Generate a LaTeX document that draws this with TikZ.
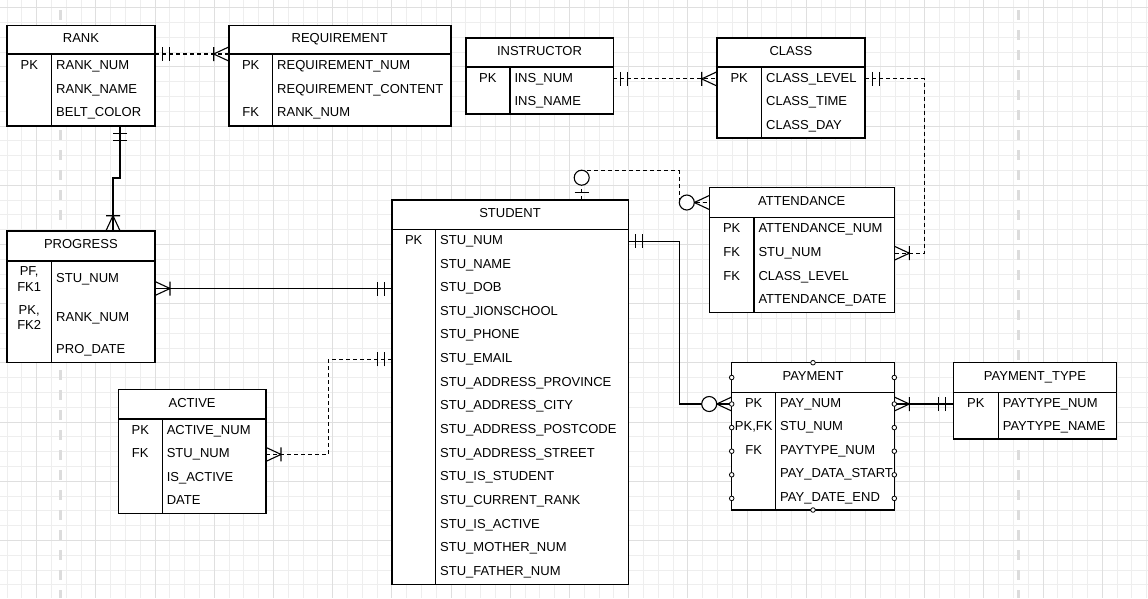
\documentclass[tikz,border=0pt]{standalone}
\usepackage{fontspec}
\setmainfont{Liberation Sans}
\definecolor{minorgray}{HTML}{EEEEEE}
\definecolor{majorgray}{HTML}{DFDFDF}
\definecolor{breakgray}{HTML}{DCDCDC}

\begin{document}
\begin{tikzpicture}[
    x = 1pt, y = -1pt,
    every node/.style = {font = \fontsize{13}{15.5}\selectfont, inner sep = 0pt, outer sep = 0pt},
    tblhead/.style = {draw, fill = white, line width = 1.6pt, anchor = north west,
                      text height = 9.3pt, text depth = 3pt},
    tblbody/.style = {draw, fill = white, line width = 1.6pt, anchor = north west},
    thinbox/.style = {line width = 1.1pt},
    divline/.style = {line width = 1.5pt},
    keyc/.style = {anchor = center, text height = 9.3pt, text depth = 3pt},
    keytwo/.style = {anchor = center, align = center},
    fld/.style = {anchor = west, text height = 9.3pt, text depth = 3pt},
    rel/.style = {line width = 1.1pt},
    dashrel/.style = {line width = 1.1pt, dash pattern = on 4pt off 3pt},
    gridline/.style = {draw = minorgray, line width = 1pt},
    gridmajor/.style = {draw = majorgray, line width = 1pt},
    pagebreak/.style = {draw = breakgray, line width = 3pt, dash pattern = on 10pt off 10pt, dash phase = 10pt},
    cpoint/.style = {draw, fill = white, line width = 0.8pt},
    % ER line ends, x axis pointing away from the table
    mandone/.pic = {\draw[solid, line width = 1.1pt] (7.5,-7) -- (7.5,7) (14.5,-7) -- (14.5,7);},
    manyone/.pic = {\draw[solid, line width = 1.1pt] (15,-7) -- (15,7) (0,-7) -- (15,0) -- (0,7);},
    zeromany/.pic = {\draw[solid, line width = 1.1pt] (0,-7) -- (15,0) -- (0,7);
                     \draw[solid, line width = 1.1pt, fill = white] (22.5,0) circle[radius = 7.5];},
    zeroone/.pic = {\draw[solid, line width = 1.1pt] (7.7,-7) -- (7.7,7);
                    \draw[solid, line width = 1.1pt, fill = white] (22.3,0) circle[radius = 7.5];}
  ]
  \useasboundingbox (0,0) rectangle (1148,598);

  % Grid
  \fill[white] (0,0) rectangle (1148,598);
  \foreach \i in {0,...,77} \draw[gridline] ({7.1+14.8*\i},0) -- ++(0,598);
  \foreach \j in {0,...,39} \draw[gridline] (0,{7.7+14.8*\j}) -- ++(1148,0);
  \foreach \i in {0,...,18} \draw[gridmajor] ({36.7+59.2*\i},0) -- ++(0,598);
  \foreach \j in {0,...,9} \draw[gridmajor] (0,{7.7+59.2*\j}) -- ++(1148,0);
  \draw[pagebreak] (60.3,0) -- (60.3,598);
  \draw[pagebreak] (1018.3,0) -- (1018.3,598);

  % RANK
  \node[tblhead, minimum width = 148pt, minimum height = 28.7pt] (rank) at (7,25.3) {RANK};
  \node[tblbody, minimum width = 148pt, minimum height = 72pt] (rank-b) at (rank.south west) {};
  \draw[divline] ([xshift = 44.7pt]rank-b.north west) -- ([xshift = 44.7pt]rank-b.south west);
  \node[keyc] (rank-k1) at (29.3,66.2) {PK};
  \node[fld] (rank-f1) at (56.2,66.2) {RANK\_NUM};
  \node[fld] (rank-f2) at (56.2,89.9) {RANK\_NAME};
  \node[fld] (rank-f3) at (56.2,113.6) {BELT\_COLOR};

  % REQUIREMENT
  \node[tblhead, minimum width = 222pt, minimum height = 28.7pt] (requirement) at (228.7,25.3) {REQUIREMENT};
  \node[tblbody, minimum width = 222pt, minimum height = 72pt] (requirement-b) at (requirement.south west) {};
  \draw[divline] ([xshift = 44pt]requirement-b.north west) -- ([xshift = 44pt]requirement-b.south west);
  \node[keyc] (requirement-k1) at (250.7,66.2) {PK};
  \node[keyc] (requirement-k3) at (250.7,113.6) {FK};
  \node[fld] (requirement-f1) at (277.2,66.2) {REQUIREMENT\_NUM};
  \node[fld] (requirement-f2) at (277.2,89.9) {REQUIREMENT\_CONTENT};
  \node[fld] (requirement-f3) at (277.2,113.6) {RANK\_NUM};

  % INSTRUCTOR
  \node[tblhead, minimum width = 147.6pt, minimum height = 29pt] (instructor) at (465.7,37.7) {INSTRUCTOR};
  \node[tblbody, minimum width = 147.6pt, minimum height = 47.3pt] (instructor-b) at (instructor.south west) {};
  \draw[divline] ([xshift = 44.3pt]instructor-b.north west) -- ([xshift = 44.3pt]instructor-b.south west);
  \node[keyc] (instructor-k1) at (487.9,78.9) {PK};
  \node[fld] (instructor-f1) at (514.5,78.9) {INS\_NUM};
  \node[fld] (instructor-f2) at (514.5,102.6) {INS\_NAME};

  % CLASS
  \node[tblhead, minimum width = 148.3pt, minimum height = 29pt] (class) at (716.7,37.7) {CLASS};
  \node[tblbody, minimum width = 148.3pt, minimum height = 71pt] (class-b) at (class.south west) {};
  \draw[divline] ([xshift = 45pt]class-b.north west) -- ([xshift = 45pt]class-b.south west);
  \node[keyc] (class-k1) at (739.2,78.9) {PK};
  \node[fld] (class-f1) at (766.2,78.9) {CLASS\_LEVEL};
  \node[fld] (class-f2) at (766.2,102.6) {CLASS\_TIME};
  \node[fld] (class-f3) at (766.2,126.3) {CLASS\_DAY};

  % ATTENDANCE
  \node[tblhead, thinbox, minimum width = 185pt, minimum height = 29.6pt] (attendance) at (709.3,187.7) {ATTENDANCE};
  \node[tblbody, thinbox, minimum width = 185pt, minimum height = 95pt] (attendance-b) at (attendance.south west) {};
  \draw[divline] ([xshift = 44.7pt]attendance-b.north west) -- ([xshift = 44.7pt]attendance-b.south west);
  \node[keyc] (attendance-k1) at (731.7,229.5) {PK};
  \node[keyc] (attendance-k2) at (731.7,253.2) {FK};
  \node[keyc] (attendance-k3) at (731.7,276.9) {FK};
  \node[fld] (attendance-f1) at (758.5,229.5) {ATTENDANCE\_NUM};
  \node[fld] (attendance-f2) at (758.5,253.2) {STU\_NUM};
  \node[fld] (attendance-f3) at (758.5,276.9) {CLASS\_LEVEL};
  \node[fld] (attendance-f4) at (758.5,300.6) {ATTENDANCE\_DATE};

  % PROGRESS
  \node[tblhead, minimum width = 148.3pt, minimum height = 30pt] (progress) at (6.7,230.7) {PROGRESS};
  \node[tblbody, minimum width = 148.3pt, minimum height = 101.6pt] (progress-b) at (progress.south west) {};
  \draw[divline] ([xshift = 45pt]progress-b.north west) -- ([xshift = 45pt]progress-b.south west);
  \node[keytwo] (progress-k1) at (29.2,279.2) {PF,\\FK1};
  \node[keytwo] (progress-k2) at (29.2,317.3) {PK,\\FK2};
  \node[fld] (progress-f1) at (56.2,279.8) {STU\_NUM};
  \node[fld] (progress-f2) at (56.2,318.8) {RANK\_NUM};
  \node[fld] (progress-f3) at (56.2,350.5) {PRO\_DATE};

  % ACTIVE
  \node[tblhead, minimum width = 147.7pt, minimum height = 29.7pt] (active) at (118.3,389.3) {ACTIVE};
  \node[tblbody, minimum width = 147.7pt, minimum height = 94.3pt] (active-b) at (active.south west) {};
  \draw[divline] ([xshift = 44pt]active-b.north west) -- ([xshift = 44pt]active-b.south west);
  \node[keyc] (active-k1) at (140.3,431) {PK};
  \node[keyc] (active-k2) at (140.3,454.4) {FK};
  \node[fld] (active-f1) at (166.8,431) {ACTIVE\_NUM};
  \node[fld] (active-f2) at (166.8,454.4) {STU\_NUM};
  \node[fld] (active-f3) at (166.8,478) {IS\_ACTIVE};
  \node[fld] (active-f4) at (166.8,501.8) {DATE};

  % STUDENT
  \node[tblhead, minimum width = 236.6pt, minimum height = 29.3pt] (student) at (391.7,200) {STUDENT};
  \node[tblbody, minimum width = 236.6pt, minimum height = 355pt] (student-b) at (student.south west) {};
  \draw[divline] ([xshift = 44pt]student-b.north west) -- ([xshift = 44pt]student-b.south west);
  \node[keyc] (student-k1) at (413.7,241.2) {PK};
  \node[fld] (student-f1) at (440.2,241.2) {STU\_NUM};
  \node[fld] (student-f2) at (440.2,264.85) {STU\_NAME};
  \node[fld] (student-f3) at (440.2,288.5) {STU\_DOB};
  \node[fld] (student-f4) at (440.2,312.15) {STU\_JIONSCHOOL};
  \node[fld] (student-f5) at (440.2,335.8) {STU\_PHONE};
  \node[fld] (student-f6) at (440.2,359.45) {STU\_EMAIL};
  \node[fld] (student-f7) at (440.2,383.1) {STU\_ADDRESS\_PROVINCE};
  \node[fld] (student-f8) at (440.2,406.75) {STU\_ADDRESS\_CITY};
  \node[fld] (student-f9) at (440.2,430.4) {STU\_ADDRESS\_POSTCODE};
  \node[fld] (student-f10) at (440.2,454.05) {STU\_ADDRESS\_STREET};
  \node[fld] (student-f11) at (440.2,477.7) {STU\_IS\_STUDENT};
  \node[fld] (student-f12) at (440.2,501.35) {STU\_CURRENT\_RANK};
  \node[fld] (student-f13) at (440.2,525) {STU\_IS\_ACTIVE};
  \node[fld] (student-f14) at (440.2,548.65) {STU\_MOTHER\_NUM};
  \node[fld] (student-f15) at (440.2,572.3) {STU\_FATHER\_NUM};

  % PAYMENT
  \node[tblhead, thinbox, minimum width = 162.6pt, minimum height = 29.6pt] (payment) at (731.7,362.7) {PAYMENT};
  \node[tblbody, thinbox, minimum width = 162.6pt, minimum height = 117.7pt] (payment-b) at (payment.south west) {};
  \draw[divline] ([xshift = 44pt]payment-b.north west) -- ([xshift = 44pt]payment-b.south west);
  \node[keyc] (payment-k1) at (753.7,404) {PK};
  \node[keyc] (payment-k2) at (753.7,427.6) {PK,FK};
  \node[keyc] (payment-k3) at (753.7,451.2) {FK};
  \node[fld] (payment-f1) at (780.2,404) {PAY\_NUM};
  \node[fld] (payment-f2) at (780.2,427.6) {STU\_NUM};
  \node[fld] (payment-f3) at (780.2,451.2) {PAYTYPE\_NUM};
  \node[fld] (payment-f4) at (780.2,474.8) {PAY\_DATA\_START};
  \node[fld] (payment-f5) at (780.2,498.4) {PAY\_DATE\_END};

  % PAYMENT_TYPE
  \node[tblhead, thinbox, minimum width = 163.4pt, minimum height = 29.6pt] (paytype) at (953.3,362.7) {PAYMENT\_TYPE};
  \node[tblbody, thinbox, minimum width = 163.4pt, minimum height = 46.7pt] (paytype-b) at (paytype.south west) {};
  \draw[divline] ([xshift = 45pt]paytype-b.north west) -- ([xshift = 45pt]paytype-b.south west);
  \node[keyc] (paytype-k1) at (975.8,404) {PK};
  \node[fld] (paytype-f1) at (1002.8,404) {PAYTYPE\_NUM};
  \node[fld] (paytype-f2) at (1002.8,427.6) {PAYTYPE\_NAME};

  % Relationships
  \coordinate (rank-out) at ([xshift = 113pt]rank-b.south west);
  \coordinate (progress-in) at ([xshift = 106.3pt]progress.north west);
  \coordinate (student-top) at ([xshift = 190pt]student.north west);

  \draw[dashrel] (rank.south east) -- (requirement.south west);
  \draw[rel] (rank-out) -- ++(0,52) -| (progress-in);
  \draw[rel] (progress-b.east |- student-f3) -- (student-b.west |- student-f3);
  \draw[dashrel] (active-b.east |- active-f2) -- ++(62.3,0) |- (student-b.west |- student-f6);
  \draw[dashrel] (instructor-b.east |- instructor-f1) -- (class-b.west |- instructor-f1);
  \draw[dashrel] (class-b.east |- class-f1) -- ++(59.3,0) |- (attendance-b.east |- attendance-f2);
  \draw[dashrel] (student-top) -- ++(0,-29.3) -- ++(97.6,0) |- (attendance.west);
  \draw[rel] (student-b.east |- student-f1) -- ++(51,0) |- (payment-b.west |- payment-f1);
  \draw[rel, line width = 1.6pt] (payment-b.east |- payment-f1) -- (paytype-b.west |- payment-f1);

  % Line ends
  \pic at (rank.south east) {mandone};
  \pic[rotate = 180] at (requirement.south west) {manyone};
  \pic[rotate = -90] at (rank-out) {mandone};
  \pic[rotate = 90] at (progress-in) {manyone};
  \pic at (progress-b.east |- student-f3) {manyone};
  \pic[rotate = 180] at (student-b.west |- student-f3) {mandone};
  \pic at (active-b.east |- active-f2) {manyone};
  \pic[rotate = 180] at (student-b.west |- student-f6) {mandone};
  \pic at (instructor-b.east |- instructor-f1) {mandone};
  \pic[rotate = 180] at (class-b.west |- instructor-f1) {manyone};
  \pic at (class-b.east |- class-f1) {mandone};
  \pic at (attendance-b.east |- attendance-f2) {manyone};
  \pic[rotate = 90] at (student-top) {zeroone};
  \pic[rotate = 180] at (attendance.west) {zeromany};
  \pic at (student-b.east |- student-f1) {mandone};
  \pic[rotate = 180] at (payment-b.west |- payment-f1) {zeromany};
  \pic at (payment-b.east |- payment-f1) {manyone};
  \pic[rotate = 180] at (paytype-b.west |- payment-f1) {mandone};

  % Connection points of the selected table
  \foreach \r in {payment, payment-f1, payment-f2, payment-f3, payment-f4, payment-f5} {
    \draw[cpoint] (payment-b.west |- \r) circle[radius = 2.3];
    \draw[cpoint] (payment-b.east |- \r) circle[radius = 2.3];
  }
  \draw[cpoint] (payment.north) circle[radius = 2.3];
  \draw[cpoint] (payment-b.south) circle[radius = 2.3];

\end{tikzpicture}
\end{document}
